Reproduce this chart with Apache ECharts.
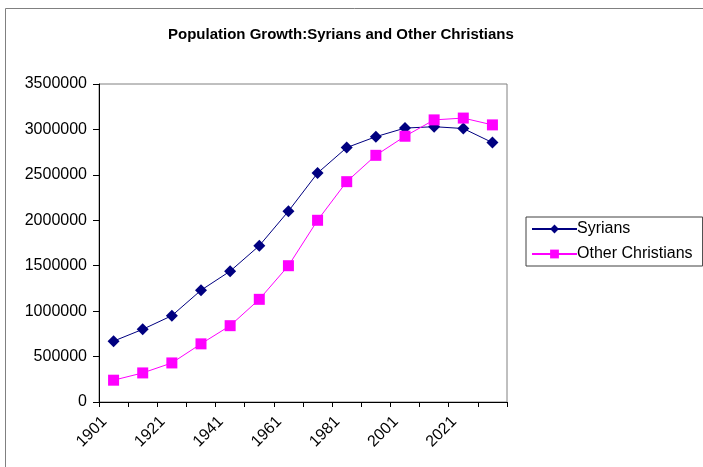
<!DOCTYPE html>
<html>
<head>
<meta charset="utf-8">
<script src="https://cdn.jsdelivr.net/npm/echarts@6/dist/echarts.min.js"></script>
<style>html,body{margin:0;padding:0;background:#fff;}#c{width:703px;height:467px;}</style>
</head>
<body>
<div id="c"></div>
<script>
const years = ['1901','1911','1921','1931','1941','1951','1961','1971','1981','1991','2001','2011','2021','2031'];
const syrians = [670000, 800000, 950000, 1230000, 1440000, 1720000, 2100000, 2520000, 2800000, 2920000, 3015000, 3030000, 3010000, 2855000];
const otherChristians = [240000, 320000, 430000, 640000, 840000, 1130000, 1500000, 2000000, 2425000, 2715000, 2925000, 3105000, 3125000, 3050000];
const yTicks = {min: 0, max: 3500000, interval: 500000};

const chart = echarts.init(document.getElementById('c'), null, {renderer: 'canvas'});
const font = 'Liberation Sans, Arial, sans-serif';
chart.setOption({
  animation: false,
  backgroundColor: '#ffffff',
  title: {
    text: 'Population Growth:Syrians and Other Christians',
    left: 163, top: 22,
    textStyle: {fontFamily: font, fontSize: 15, fontWeight: 'bold', color: '#000'}
  },
  graphic: [{
    type: 'rect', shape: {x: 5.5, y: 8.5, width: 720, height: 480},
    style: {fill: 'none', stroke: '#808080', lineWidth: 1}, silent: true, z: -1
  }],
  legend: {
    orient: 'vertical', left: 526, top: 217,
    padding: [4, 10, 4, 5], itemGap: 9,
    itemWidth: 45, itemHeight: 11,
    borderColor: '#404040', borderWidth: 1,
    textStyle: {fontFamily: font, fontSize: 16, color: '#000', padding: [0, 0, 0, -5]},
    data: ['Syrians', 'Other Christians']
  },
  grid: {
    left: 99, right: 196, top: 84, bottom: 65,
    show: true, borderColor: '#808080', borderWidth: 1, backgroundColor: '#fff'
  },
  xAxis: {
    type: 'category', data: years, boundaryGap: true,
    axisLine: {lineStyle: {color: '#000', width: 1}},
    axisTick: {show: true, length: 5, interval: 0, lineStyle: {color: '#000'}},
    axisLabel: {interval: 1, rotate: 45, fontFamily: font, fontSize: 16, color: '#000', margin: 8, padding: [0, 13, 0, 0]},
    splitLine: {show: false}
  },
  yAxis: {
    type: 'value', min: yTicks.min, max: yTicks.max, interval: yTicks.interval,
    axisLine: {show: true, lineStyle: {color: '#000', width: 1}},
    axisTick: {show: true, length: 6, lineStyle: {color: '#000'}},
    axisLabel: {fontFamily: font, fontSize: 16, color: '#000', margin: 12, formatter: v => String(v)},
    splitLine: {show: false}
  },
  series: [
    {
      name: 'Syrians', type: 'line', data: syrians,
      symbol: 'diamond', symbolSize: 12,
      itemStyle: {color: '#000080'},
      lineStyle: {color: '#000080', width: 1}
    },
    {
      name: 'Other Christians', type: 'line', data: otherChristians,
      symbol: 'rect', symbolSize: 11,
      itemStyle: {color: '#ff00ff'},
      lineStyle: {color: '#ff00ff', width: 1}
    }
  ]
});
</script>
</body>
</html>
